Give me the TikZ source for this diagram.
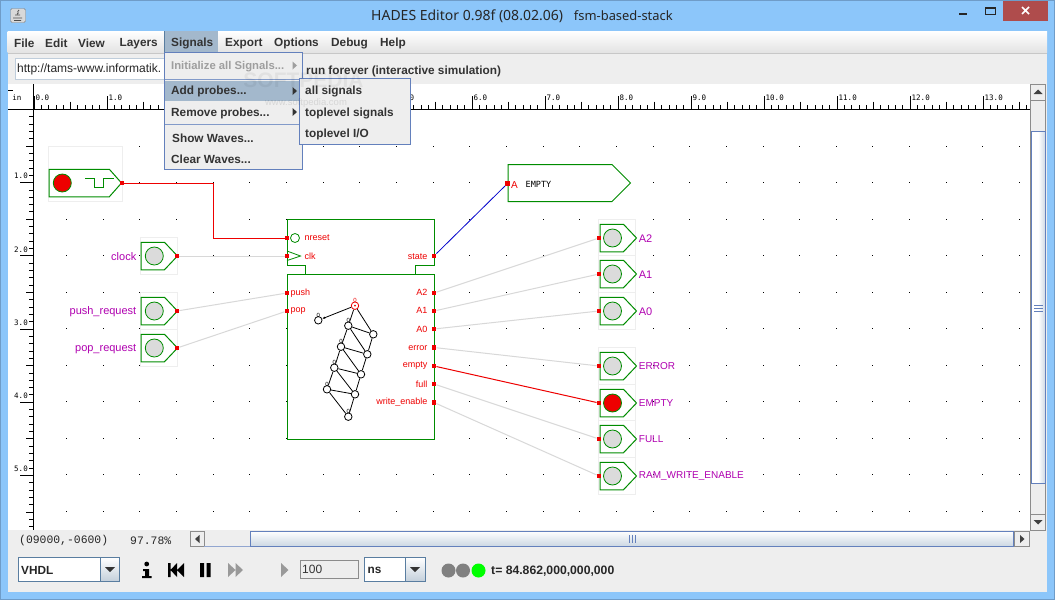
\documentclass[tikz,border=0pt]{standalone}
\usepackage{fontspec}
\setmainfont{Liberation Sans}
\setmonofont{Liberation Mono}
\newfontfamily\titlefont{Noto Sans}
\newfontfamily\rulerfont{DejaVu Sans Mono}
\usetikzlibrary{positioning,shapes.symbols,arrows.meta}
\definecolor{winblue}{HTML}{8CC6FA}
\definecolor{winedge}{HTML}{6F9CC8}
\definecolor{panel}{HTML}{EEEEEE}
\definecolor{selblue}{HTML}{A3B8CC}
\definecolor{menuedge}{HTML}{6380BC}
\definecolor{hgreen}{HTML}{008C00}
\definecolor{hred}{HTML}{EE0000}
\definecolor{hmag}{HTML}{B000B0}
\definecolor{wiregray}{HTML}{D8D8D8}
\definecolor{pale}{HTML}{EEEEEE}
\tikzset{
menutext/.style={font=\bfseries\fontsize{11.8}{12}\selectfont,text=black!80,inner sep=0pt,anchor=west,yshift=-0.8pt},
signalbody/.style={signal,signal to=east,draw=hgreen,fill=white,line width=1pt,inner sep=0pt,anchor=west},
probe/.style={signalbody,minimum width=36.5pt,minimum height=27.5pt,signal pointer angle=93},
lamp/.style={circle,draw=hgreen,fill=black!14,line width=0.8pt,minimum size=18pt,inner sep=0pt},
lampon/.style={lamp,fill=hred},
port/.style={rectangle,fill=hred,minimum size=4.5pt,inner sep=0pt},
paleBox/.style={draw=pale,fill=white,line width=1pt},
siglabel/.style={font=\fontsize{11}{11}\selectfont,text=hmag,inner sep=0pt,yshift=-1pt},
caplabel/.style={font=\fontsize{10}{11}\selectfont,text=hmag,inner sep=0pt,yshift=-0.5pt},
pinlabel/.style={font=\fontsize{9}{9}\selectfont,text=hred,inner sep=0pt,yshift=-0.7pt},
offwire/.style={draw=wiregray,line width=1pt},
onwire/.style={draw=hred,line width=1pt},
fsmstate/.style={circle,draw=black,fill=white,line width=0.8pt,minimum size=7.5pt,inner sep=0pt},
fsmmarked/.style={fsmstate,label={[font=\fontsize{6}{6}\selectfont,inner sep=0pt,label distance=-1.5pt]above:0}},
fsmedge/.style={draw=black,line width=0.8pt},
ruletext/.style={font=\rulerfont\fontsize{7.5}{7.5}\selectfont,inner sep=0pt},
statustext/.style={font=\ttfamily\fontsize{11.4}{12}\selectfont,anchor=west,inner sep=0pt,text=black!85},
combo/.style={draw=winedge!80!black,line width=1pt,top color=white,bottom color=white},
combobtn/.style={draw=winedge!80!black,line width=1pt,top color=white,bottom color=black!5!selblue!60},
scrollthumb/.style={draw=menuedge,line width=1pt}
}
\begin{document}
\begin{tikzpicture}[x=1pt,y=-1pt]
\useasboundingbox (0,0) rectangle (1055,600);
\fill[winedge] (0,0) rectangle (1055,600);
\fill[winblue] (1,1) rectangle (1054,599);

% title bar
\fill[white!85!black,draw=black!50,rounded corners=1.5pt] (10.5,8.5) rectangle (25.5,22.5);
\draw[black!70,line width=0.8pt] (13,18) -- (22,18) (14,20.5) -- (21,20.5) (15,15) -- (20,15) (19,10) .. controls (16,12) and (20,13) .. (17,14);
\node[font=\titlefont\fontsize{14}{14}\selectfont,text=black!85,inner sep=0pt,anchor=west] (title) at (371,16) {HADES Editor 0.98f (08.02.06)\hspace{11pt}{\fontsize{12.9}{14}\selectfont fsm-based-stack}};
\fill[black!85] (959,12.5) rectangle (967,15);
\draw[black!85,line width=1pt] (985.5,7.5) rectangle (995,14.5);
\draw[black!85,line width=2pt] (985.5,8) -- (995,8);
\fill[red!55!black!70!white] (1003,1) rectangle (1048,21);
\draw[white,line width=1.6pt] (1022,7) -- (1029,14) (1029,7) -- (1022,14);

% client area
\fill[panel] (7.5,31) rectangle (1047,592);
\shade[top color=white,bottom color=black!11] (7.5,31) rectangle (1047,52.5);
\draw[black!22,line width=1pt] (7.5,53) -- (1047,53);
\fill[white] (8,84) rectangle (1030,530);

% grid dots
\foreach \i in {1,...,27}
\foreach \j in {0,...,10}
\fill[black] ({30+36.65*\i-0.5},{146+36.55*\j-0.5}) rectangle +(1,1);

% rulers
\draw[black,line width=1pt] (8,109) -- (1030,109);
\draw[black,line width=1pt] (33.5,84) -- (33.5,530);
\foreach \k in {0,...,136} {
\pgfmathsetmacro{\tp}{ifthenelse(mod(\k,5)==0,101.5,105)}
\draw[black,line width=0.8pt] ({34+7.3*\k},\tp) -- ({34+7.3*\k},109);
}
\foreach \k in {0,...,13} {
\draw[black,line width=1pt] ({34+73*\k},96) -- ({34+73*\k},109);
\node[ruletext,anchor=west] (top\k) at ({35.5+73*\k},98) {\k.0};
}
\foreach \k in {0,...,57} {
\pgfmathsetmacro{\lf}{ifthenelse(mod(\k,5)==0,26,29)}
\draw[black,line width=0.8pt] (\lf,{109.4+7.32*\k}) -- (33.5,{109.4+7.32*\k});
}
\foreach \k in {1,...,5} {
\draw[black,line width=1pt] (20,{109.4+73.2*\k}) -- (33.5,{109.4+73.2*\k});
\node[ruletext] (left\k) at (21,{103+73.2*\k}) {\k.0};
}
\node[ruletext] (inch) at (17,97.5) {in};
\draw[black,line width=1pt] (8,90.5) -- (13,90.5);

% light frames of the icons
\draw[paleBox] (48.5,146) rectangle (122.5,201.5);
\foreach \y in {256,311,348} \draw[paleBox] (140.5,\y-18.5) rectangle (177.5,\y+18.5);
\foreach \y in {238,274,311,366,403,439,476} \draw[paleBox] (598.5,\y-18.5) rectangle (635.5,\y+18.5);

% inputs
\node[signalbody,minimum width=72.5pt,minimum height=27.5pt,signal pointer angle=97] (sReset) at (48.5,183) {};
\node[lampon] (lReset) at (62.3,183) {};
\draw[hgreen,line width=1pt] (85,178) -- (94,178) -- (94,187) -- (103,187) -- (103,178) -- (113.5,178);
\node[probe] (sClock) at (140.5,256) {};
\node[lamp] (lClock) at (154.3,256) {};
\node[probe] (sPush) at (140.5,311) {};
\node[lamp] (lPush) at (154.3,311) {};
\node[probe] (sPop) at (140.5,348) {};
\node[lamp] (lPop) at (154.3,348) {};
\node[siglabel,left=4pt of sClock] (tClock) {clock};
\node[siglabel,left=4pt of sPush] (tPush) {push\_request};
\node[siglabel,left=4pt of sPop] (tPop) {pop\_request};
\node[port] (pReset) at (122,183) {};
\node[port] (pClock) at (177,256) {};
\node[port] (pPush) at (177,311) {};
\node[port] (pPop) at (177,348) {};

% stack component
\fill[white] (287,219.5) rectangle (434.5,439.5);
\draw[hgreen,line width=1pt] (287,265) -- (287,219.5) -- (434.5,219.5) -- (434.5,265) -- (415.5,265) -- (415.5,274.5);
\draw[hgreen,line width=1pt] (287,265) -- (305.5,265) -- (305.5,274.5);
\draw[hgreen,line width=1pt] (287,274.5) rectangle (434.5,439.5);
\node[circle,draw=hgreen,line width=0.8pt,minimum size=9pt,inner sep=0pt] (cReset) at (295,238) {};
\draw[hgreen,line width=0.8pt] (287,251) -- (300.5,256) -- (287,260.5);
\node[port] (pNreset) at (287,238) {};
\node[port] (pClk) at (287,256) {};
\node[port] (pPushIn) at (287,293) {};
\node[port] (pPopIn) at (287,311) {};
\node[port] (pState) at (434,256) {};
\node[port] (pAtwo) at (434,293) {};
\node[port] (pAone) at (434,311) {};
\node[port] (pAzero) at (434,329) {};
\node[port] (pError) at (434,347.5) {};
\node[port] (pEmpty) at (434,366) {};
\node[port] (pFull) at (434,384) {};
\node[port] (pWrite) at (434,402.5) {};
\node[pinlabel,anchor=west] (tNreset) at (304.5,237) {nreset};
\node[pinlabel,anchor=west] (tClk) at (304.5,255.5) {clk};
\node[pinlabel,anchor=west] (tPushIn) at (290.5,292) {push};
\node[pinlabel,anchor=west] (tPopIn) at (290.5,310) {pop};
\node[pinlabel,anchor=east] (tState) at (427.5,255.5) {state};
\node[pinlabel,anchor=east] (tAtwo) at (427.5,292) {A2};
\node[pinlabel,anchor=east] (tAone) at (427.5,310) {A1};
\node[pinlabel,anchor=east] (tAzero) at (427.5,328.5) {A0};
\node[pinlabel,anchor=east] (tError) at (427.5,347) {error};
\node[pinlabel,anchor=east] (tEmpty) at (427.5,365) {empty};
\node[pinlabel,anchor=east] (tFull) at (427.5,383.5) {full};
\node[pinlabel,anchor=east] (tWrite) at (427.5,401.5) {write\_enable};

% state graph
\node[fsmstate,draw=hred,label={[font=\fontsize{6}{6}\selectfont,text=hred,inner sep=0pt,label distance=-1.5pt]above:0}] (q0) at (355,305.7) {};
\node[fill=hred,circle,minimum size=2pt,inner sep=0pt] (q0dot) at (355,305.7) {};
\node[fsmmarked] (qa) at (318.3,320.3) {};
\node[fsmmarked] (qb) at (348.3,325.7) {};
\node[fsmstate] (qc) at (373.3,334.3) {};
\node[fsmmarked] (qd) at (341,346.7) {};
\node[fsmstate] (qe) at (367.3,354.3) {};
\node[fsmmarked] (qf) at (334.3,367.7) {};
\node[fsmstate] (qg) at (361,374.3) {};
\node[fsmmarked] (qh) at (327,389.3) {};
\node[fsmstate] (qi) at (355,394.3) {};
\node[fsmmarked] (qj) at (348.3,416.7) {};
\draw[fsmedge,-{Latex[length=3pt,width=2.5pt]}] (q0) -- (qa);
\draw[fsmedge] (q0) -- (qb);
\draw[fsmedge] (q0) -- (qc);
\draw[fsmedge] (qb) -- (qc);
\draw[fsmedge] (qb) -- (qd);
\draw[fsmedge] (qb) -- (qe);
\draw[fsmedge] (qc) -- (qe);
\draw[fsmedge] (qd) -- (qe);
\draw[fsmedge] (qd) -- (qf);
\draw[fsmedge] (qd) -- (qg);
\draw[fsmedge] (qe) -- (qg);
\draw[fsmedge] (qf) -- (qg);
\draw[fsmedge] (qf) -- (qh);
\draw[fsmedge] (qf) -- (qi);
\draw[fsmedge] (qg) -- (qi);
\draw[fsmedge] (qh) -- (qi);
\draw[fsmedge] (qh) -- (qj);
\draw[fsmedge] (qi) -- (qj);

% outputs
\node[signalbody,minimum width=122.5pt,minimum height=37pt,signal pointer angle=90] (sText) at (507.5,183) {};
\node[port] (pText) at (507.5,183.5) {};
\node[pinlabel,font=\fontsize{10}{10}\selectfont,anchor=west] (tTextA) at (511,184) {A};
\node[font=\rulerfont\fontsize{8.5}{8.5}\selectfont,inner sep=0pt,anchor=west] (tTextE) at (525.5,184.5) {EMPTY};
\node[probe] (sAtwo) at (599.5,238) {};
\node[probe] (sAone) at (599.5,274) {};
\node[probe] (sAzero) at (599.5,311) {};
\node[probe] (sError) at (599.5,366) {};
\node[probe] (sEmpty) at (599.5,403) {};
\node[probe] (sFull) at (599.5,439) {};
\node[probe] (sRam) at (599.5,476) {};
\node[lamp] at (612.5,238) (lAtwo) {};
\node[lamp] at (612.5,274) (lAone) {};
\node[lamp] at (612.5,311) (lAzero) {};
\node[lamp] at (612.5,366) (lError) {};
\node[lampon] at (612.5,403) (lEmpty) {};
\node[lamp] at (612.5,439) (lFull) {};
\node[lamp] at (612.5,476) (lRam) {};
\node[port] (qAtwo) at (599,238) {};
\node[port] (qAone) at (599,274) {};
\node[port] (qAzero) at (599,311) {};
\node[port] (qError) at (599,366) {};
\node[port] (qEmpty) at (599,403) {};
\node[port] (qFull) at (599,439) {};
\node[port] (qRam) at (599,476) {};
\node[siglabel,right=1.5pt of sAtwo] (tpAtwo) {A2};
\node[siglabel,right=1.5pt of sAone] (tpAone) {A1};
\node[siglabel,right=1.5pt of sAzero] (tpAzero) {A0};
\node[caplabel,right=1.5pt of sError] (tpError) {ERROR};
\node[caplabel,right=1.5pt of sEmpty] (tpEmpty) {EMPTY};
\node[caplabel,right=1.5pt of sFull] (tpFull) {FULL};
\node[caplabel,right=1.5pt of sRam] (tpRam) {RAM\_WRITE\_ENABLE};

% wires
\coordinate (bend) at (213.5,210);
\draw[onwire] (pReset.center) -| (bend) |- (pNreset.center);
\draw[offwire] (pClock) -- (pClk);
\draw[offwire] (pPush) -- (pPushIn);
\draw[offwire] (pPop) -- (pPopIn);
\draw[draw=blue!80!black,line width=0.8pt] (pState) -- (pText);
\draw[offwire] (pAtwo) -- (qAtwo);
\draw[offwire] (pAone) -- (qAone);
\draw[offwire] (pAzero) -- (qAzero);
\draw[offwire] (pError) -- (qError);
\draw[onwire] (pEmpty) -- (qEmpty);
\draw[offwire] (pFull) -- (qFull);
\draw[offwire] (pWrite) -- (qRam);

% scroll bars
\fill[panel] (1030,84) rectangle (1046,530);
\draw[black!45,line width=1pt] (1030.5,84.5) rectangle (1045.5,530);
\draw[black!45,line width=1pt] (1030.5,100) -- (1045.5,100) (1030.5,514) -- (1045.5,514);
\fill[black!75] (1033.5,94) -- (1042.5,94) -- (1038,89.5) -- cycle;
\fill[black!75] (1033.5,520) -- (1042.5,520) -- (1038,524.5) -- cycle;
\shade[left color=white,right color=selblue!55,middle color=white] (1031,131.5) rectangle (1045.5,483);
\draw[scrollthumb] (1031,131.5) rectangle (1045.5,483);
\draw[menuedge,line width=0.7pt] (1034,305) -- (1043,305) (1034,308) -- (1043,308) (1034,311) -- (1043,311);
\fill[panel] (190,531) rectangle (1030,547);
\draw[black!45,line width=1pt] (190.5,531) rectangle (204,546.5);
\draw[black!45,line width=1pt] (1014,531) rectangle (1029,546.5);
\fill[black!75] (199.5,535) -- (199.5,543) -- (195,539) -- cycle;
\fill[black!75] (1020,535) -- (1020,543) -- (1024.5,539) -- cycle;
\draw[menuedge!70,line width=1pt] (204,546.5) -- (1014,546.5);
\shade[top color=white,bottom color=selblue!55] (250,531) rectangle (1013.5,546);
\draw[scrollthumb] (250,531) rectangle (1013.5,546.5);
\draw[menuedge,line width=0.7pt] (629,535) -- (629,543) (632,535) -- (632,543) (635,535) -- (635,543);

% status line
\node[statustext] (tPos) at (19,541) {(09000,-0600)};
\node[statustext] (tZoom) at (130,541) {97.78\%};

% bottom tool bar
\draw[combo] (18.5,557.5) rectangle (119.5,581.5);
\draw[combobtn] (100.5,557.5) rectangle (119.5,581.5);
\fill[black!80] (105,567) -- (115,567) -- (110,572) -- cycle;
\node[menutext,text=black!85] (tVhdl) at (21,569.5) {VHDL};
\fill[black] (146.7,564) circle (2.4);
\fill[black] (143,569) rectangle (149,571) (145,569) rectangle (149,577) (142,576) rectangle (151.5,578);
\fill[black] (168,563) rectangle (170.5,577) (184,563) -- (184,577) -- (177,570) -- cycle (177,563) -- (177,577) -- (170.5,570) -- cycle;
\fill[black] (200,563) rectangle (204,577) (206.5,563) rectangle (210.5,577);
\fill[black!40] (228,563) -- (228,577) -- (235.5,570) -- cycle (235.5,563) -- (235.5,577) -- (243,570) -- cycle;
\fill[black!40] (281,563) -- (281,577) -- (288.5,570) -- cycle;
\draw[black!45,line width=1pt] (300.5,560) rectangle (358,578);
\node[font=\fontsize{12}{12}\selectfont,anchor=west,inner sep=0pt,text=black!80] (tStep) at (302,569.5) {100};
\draw[combo] (364.5,557.5) rectangle (425,581.5);
\draw[combobtn] (405.5,557.5) rectangle (425,581.5);
\fill[black!80] (410,567) -- (420,567) -- (415,572) -- cycle;
\node[menutext,text=black!85] (tUnit) at (367.5,569.5) {ns};
\node[circle,fill=black!50,minimum size=14pt,inner sep=0pt] (ledA) at (448.5,570.5) {};
\node[circle,fill=black!50,minimum size=14pt,inner sep=0pt] (ledB) at (463,570.5) {};
\node[circle,fill=green,minimum size=14pt,inner sep=0pt] (ledC) at (478.5,570.5) {};
\node[menutext,text=black!85,font=\bfseries\fontsize{12.2}{12}\selectfont] (tTime) at (491,570.5) {t= 84.862,000,000,000};

% menu bar and tool bar
\fill[selblue] (164.5,31) rectangle (218,52);
\draw[winedge!80!black,line width=0.7pt] (164.5,31) -- (164.5,52);
\node[menutext] (mFile) at (14,42.5) {File};
\node[menutext] (mEdit) at (45,42.5) {Edit};
\node[menutext] (mView) at (78,42.5) {View};
\node[menutext] (mLayers) at (119.5,42.5) {Layers};
\node[menutext] (mSignals) at (171,42.5) {Signals};
\node[menutext] (mExport) at (225,42.5) {Export};
\node[menutext] (mOptions) at (274,42.5) {Options};
\node[menutext] (mDebug) at (331,42.5) {Debug};
\node[menutext] (mHelp) at (380,42.5) {Help};
\draw[fill=white,draw=selblue!70,line width=1pt] (15.5,58.5) rectangle (170,79);
\node[font=\fontsize{12}{12}\selectfont,anchor=west,inner sep=0pt,text=black!85] (tUrl) at (17,69.5) {http://tams-www.informatik.};
\node[menutext] (tRun) at (306,70.5) {run forever (interactive simulation)};

% Signals menu
\draw[fill=panel,draw=menuedge,line width=1pt] (164.5,52.5) rectangle (302,169);
\fill[selblue] (165,81) rectangle (301.5,100.5);
\draw[menuedge!80,line width=1pt] (165,79.5) -- (301.5,79.5) (165,124) -- (301.5,124);
\node[menutext,text=black!38,font=\bfseries\fontsize{11.3}{12}\selectfont] (iInit) at (171,65.5) {Initialize all Signals...};
\node[menutext] (iAdd) at (171,91) {Add probes...};
\node[menutext] (iRem) at (171,112.5) {Remove probes...};
\node[menutext] (iShow) at (172,137) {Show Waves...};
\node[menutext] (iClear) at (171,158) {Clear Waves...};
\fill[black!38] (292.5,61.5) -- (292.5,69.5) -- (297,65.5) -- cycle;
\fill[black!80] (292.5,87) -- (292.5,95) -- (297,91) -- cycle;
\fill[black!80] (292.5,108) -- (292.5,116) -- (297,112) -- cycle;

% probes submenu
\draw[fill=panel,draw=menuedge,line width=1pt] (299,78.5) rectangle (410.5,144);
\node[menutext] (iAll) at (305,91) {all signals};
\node[menutext] (iTopSig) at (305,112.5) {toplevel signals};
\node[menutext] (iTopIO) at (305,133.5) {toplevel I/O};

% watermark
\node[font=\bfseries\fontsize{21}{21}\selectfont,text=black,opacity=0.05,inner sep=0pt] (wmA) at (303.5,80) {SOFTPEDIA};
\node[font=\fontsize{9.5}{9.5}\selectfont,text=black,opacity=0.1,inner sep=0pt] (wmB) at (306,103) {www.softpedia.com};
\end{tikzpicture}
\end{document}
